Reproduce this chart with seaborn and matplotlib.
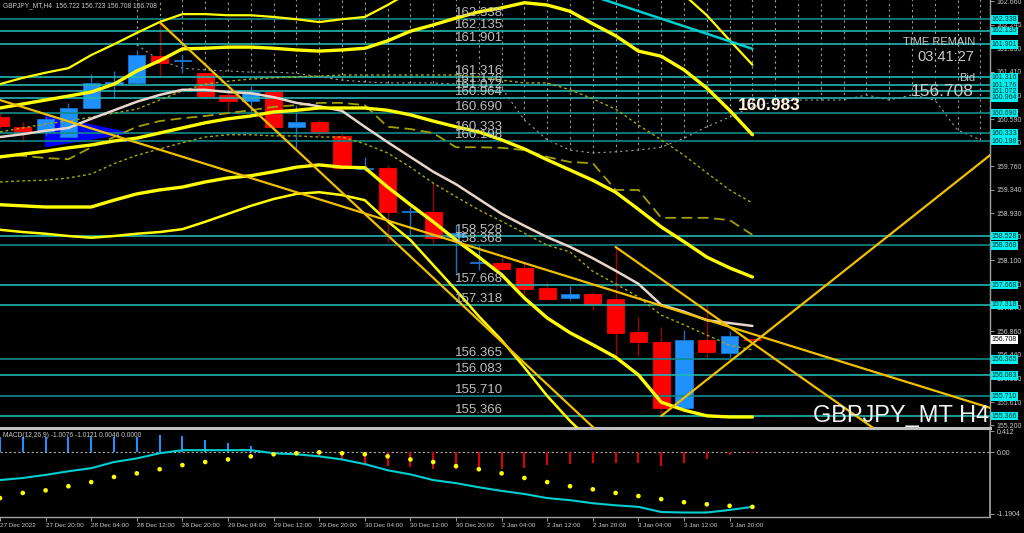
import numpy as np
import pandas as pd
import matplotlib
matplotlib.use("Agg")
import matplotlib.pyplot as plt
import seaborn as sns

sns.set_theme(style="dark", rc={"axes.facecolor": "black", "figure.facecolor": "black"})
plt.rcParams["font.family"] = ["Liberation Sans", "DejaVu Sans"]

# ---------------- data ----------------
time_labels = ["27 Dec 2022", "27 Dec 20:00", "28 Dec 04:00", "28 Dec 12:00", "28 Dec 20:00",
               "29 Dec 04:00", "29 Dec 12:00", "29 Dec 20:00", "30 Dec 04:00", "30 Dec 12:00",
               "30 Dec 20:00", "2 Jan 04:00", "2 Jan 12:00", "2 Jan 20:00", "3 Jan 04:00",
               "3 Jan 12:00", "3 Jan 20:00"]

opens = [160.622, 160.446, 160.358, 160.270, 160.780, 161.210, 161.219, 161.694, 161.600, 161.395,
         161.008, 160.903, 161.061, 160.446, 160.534, 160.288, 159.710, 159.725, 158.945, 158.952,
         158.513, 158.050, 158.056, 157.968, 157.616, 157.441, 157.511, 157.423, 156.843, 156.667,
         155.507, 156.702, 156.474, 156.722]
highs = [160.690, 160.534, 160.620, 160.868, 161.377, 161.430, 161.800, 162.290, 161.711, 161.420,
         161.131, 161.167, 161.096, 160.833, 160.569, 160.341, 159.919, 159.778, 159.040, 159.462,
         158.724, 158.372, 158.161, 158.073, 157.722, 157.652, 157.546, 158.337, 157.107, 156.931,
         156.878, 157.340, 156.861, 156.723]
lows = [160.430, 160.200, 160.310, 160.270, 160.780, 160.956, 161.200, 161.325, 161.395, 160.956,
        160.727, 160.710, 160.430, 160.077, 160.290, 159.690, 159.673, 158.425, 158.548, 158.407,
        157.845, 157.933, 157.933, 157.494, 157.400, 157.400, 157.230, 156.386, 156.421, 155.367,
        155.472, 156.386, 156.403, 156.708]
closes = [160.464, 160.341, 160.587, 160.780, 161.219, 161.225, 161.711, 161.571, 161.606, 160.991,
          160.903, 161.061, 160.446, 160.534, 160.341, 159.725, 159.725, 158.952, 158.960, 158.495,
          158.583, 158.056, 157.950, 157.599, 157.423, 157.511, 157.335, 156.826, 156.667, 155.507,
          156.702, 156.492, 156.773, 156.708]

band_outer_up = [161.20, 161.31, 161.40, 161.48, 161.71, 161.90, 162.10, 162.29, 162.43, 162.43,
                 162.41, 162.41, 162.38, 162.34, 162.29, 162.34, 162.38, 162.59, 162.82, 163.03,
                 163.21, 163.35, 163.42, 163.47, 163.47, 163.42, 163.35, 163.21, 163.12, 162.94,
                 162.77, 162.41, 161.97, 161.54]
band_up = [160.78, 160.85, 160.92, 160.99, 161.06, 161.20, 161.43, 161.61, 161.82, 161.83,
           161.85, 161.85, 161.83, 161.80, 161.78, 161.80, 161.83, 161.96, 162.13, 162.24,
           162.36, 162.47, 162.54, 162.63, 162.59, 162.48, 162.26, 162.05, 161.78, 161.69,
           161.45, 161.13, 160.74, 160.31]
band_mid = [159.92, 159.97, 160.02, 160.08, 160.13, 160.20, 160.25, 160.34, 160.43, 160.52,
            160.59, 160.64, 160.71, 160.74, 160.78, 160.78, 160.78, 160.74, 160.66, 160.55,
            160.45, 160.36, 160.22, 160.06, 159.87, 159.69, 159.51, 159.30, 159.00, 158.69,
            158.43, 158.16, 157.97, 157.81]
band_low = [159.08, 159.06, 159.04, 159.04, 159.04, 159.16, 159.27, 159.34, 159.39, 159.48,
            159.55, 159.59, 159.66, 159.74, 159.78, 159.74, 159.73, 159.39, 159.08, 158.78,
            158.46, 158.16, 157.85, 157.44, 157.09, 156.83, 156.62, 156.40, 156.09, 155.61,
            155.47, 155.37, 155.35, 155.35]
band_outer_low = [158.64, 158.60, 158.57, 158.53, 158.50, 158.53, 158.57, 158.60, 158.65, 158.78,
                  158.92, 159.06, 159.18, 159.27, 159.30, 159.25, 159.16, 158.79, 158.46, 158.02,
                  157.58, 157.12, 156.70, 156.22, 155.72, 155.28, 154.90, 154.60, 154.35, 154.15,
                  154.02, 153.95, 153.90, 153.89]
ma_line = [160.27, 160.32, 160.38, 160.43, 160.59, 160.74, 160.89, 161.01, 161.10, 161.10,
           161.06, 161.04, 160.97, 160.87, 160.81, 160.73, 160.45, 160.18, 159.92, 159.66,
           159.44, 159.18, 158.92, 158.71, 158.51, 158.34, 158.14, 157.92, 157.69, 157.32,
           157.20, 157.05, 157.00, 156.95]
dot_line_a = [160.36, 160.43, 160.50, 160.55, 160.62, 160.69, 160.76, 160.92, 161.08, 161.20,
              161.25, 161.29, 161.31, 161.33, 161.34, 161.36, 161.36, 161.36, 161.36, 161.36,
              161.36, 161.33, 161.27, 161.22, 161.22, 161.10, 160.94, 160.76, 160.48, 160.22,
              159.95, 159.64, 159.34, 159.11]
dot_line_b = [159.48, 159.50, 159.51, 159.55, 159.62, 159.80, 159.95, 160.06, 160.17, 160.27,
              160.31, 160.31, 160.29, 160.29, 160.27, 160.27, 160.15, 159.99, 159.74, 159.46,
              159.22, 158.99, 158.79, 158.58, 158.37, 158.25, 157.91, 157.69, 157.46, 157.14,
              156.97, 156.79, 156.61, 156.53]
dash_line = [159.94, 159.94, 159.90, 159.88, 160.09, 160.27, 160.45, 160.55, 160.60, 160.64,
             160.69, 160.74, 160.80, 160.83, 160.87, 160.87, 160.83, 160.45, 160.41, 160.34,
             160.09, 160.09, 160.08, 160.04, 159.92, 159.83, 159.81, 159.34, 159.34, 158.85,
             158.85, 158.85, 158.81, 158.55]
cloud_start = 6
cloud_low = [161.89, 161.62, 161.48, 161.45, 161.43, 161.41, 161.41, 161.39, 161.33, 161.27,
             161.24, 161.22, 161.22, 161.22, 161.20, 161.17, 161.13, 160.57, 160.22, 160.04,
             159.99, 160.01, 160.04, 160.09, 160.25, 160.45, 160.62, 160.80, 160.89, 160.92,
             160.92, 160.92, 161.01, 160.92, 161.01, 160.92, 160.39, 160.22]

levels = [162.338, 162.135, 161.901, 161.316, 161.176, 161.072, 160.964, 160.690, 160.333,
          160.198, 158.528, 158.368, 157.668, 157.318, 156.365, 156.083, 155.710, 155.366]
level_dark = [1, 0, 0, 0, 0, 0, 0, 1, 1, 1, 0, 1, 0, 0, 1, 0, 1, 0]

price_ticks = [162.660, 162.245, 161.830, 161.415, 161.000, 160.585, 160.170, 159.760, 159.345,
               158.930, 158.515, 158.100, 157.685, 157.270, 156.855, 156.440, 156.025, 155.610,
               155.200]
price_tick_labels = ["162.660", "162.245", "161.830", "161.410", "161.000", "160.590", "160.170",
                     "159.760", "159.340", "158.930", "158.510", "158.100", "157.680", "157.270",
                     "156.860", "156.440", "156.030", "155.610", "155.200"]

# trendlines: (bar, price) anchor pairs
trend_main = [(0.0, 160.92), (43.42, 155.51)]
trend_steep = [(7.0, 162.29), (27.0, 154.80)]
trend_recent = [(27.0, 158.337), (39.0, 154.96)]
trend_up = [(29.0, 155.367), (43.42, 159.95)]
trend_cyan = [(25.0, 162.88), (33.0, 161.82)]
triangle = [(1.97, 160.66), (1.97, 160.09), (5.83, 160.34)]

macd_hist = [0.29, 0.29, 0.29, 0.29, 0.29, 0.29, 0.29, 0.33, 0.31, 0.23, 0.17, 0.12, 0.01, -0.03,
             -0.10, -0.15, -0.25, -0.27, -0.29, -0.33, -0.33, -0.33, -0.33, -0.31, -0.25, -0.23,
             -0.21, -0.21, -0.21, -0.27, -0.21, -0.14, -0.06, -0.01]
macd_line = [-0.54, -0.50, -0.44, -0.37, -0.31, -0.19, -0.12, -0.02, 0.04, 0.04, 0.04, 0.04, -0.02,
             -0.04, -0.08, -0.14, -0.23, -0.35, -0.43, -0.54, -0.60, -0.68, -0.75, -0.81, -0.89,
             -0.93, -0.99, -1.03, -1.06, -1.16, -1.17, -1.17, -1.12, -1.06]
macd_dots = [-0.89, -0.79, -0.74, -0.66, -0.58, -0.48, -0.41, -0.33, -0.25, -0.19, -0.14, -0.08,
             -0.04, -0.02, 0.00, -0.02, -0.04, -0.08, -0.14, -0.19, -0.27, -0.33, -0.41, -0.50,
             -0.58, -0.66, -0.72, -0.79, -0.85, -0.91, -0.97, -1.01, -1.04, -1.06]

# ---------------- figure ----------------
W, H = 1024, 533
fig = plt.figure(figsize=(W / 100, H / 100), dpi=100)


def rect(l, t, r, b):
    return [l / W, 1 - b / H, (r - l) / W, (b - t) / H]


ax = fig.add_axes(rect(0, 0, 990, 428))
mx = fig.add_axes(rect(0, 431, 990, 517))
XMAX = 990 / 22.8
n = len(opens)
bars = np.arange(n)
for a in (ax, mx):
    a.set_facecolor("black")
    a.set_xlim(0, XMAX)
    a.grid(False)
ax.set_ylim(155.156, 162.678)
mx.set_ylim(-1.257, 0.412)

TXT = "#C8C8C8"
GRID = "#9A9A9A"

# cloud verticals (grey dotted)
cb = np.arange(cloud_start, cloud_start + len(cloud_low))
ax.vlines(cb, cloud_low, 163.0, colors=GRID, linestyles=(0, (2, 3)), lw=0.8, zorder=1)
sns.lineplot(x=cb, y=cloud_low, ax=ax, color=GRID, lw=0.8, linestyle=(0, (2, 3)),
             estimator=None, sort=False, legend=False, zorder=1)

# triangle object
ax.fill([p[0] for p in triangle], [p[1] for p in triangle], color="#0000FF", zorder=2, lw=0)

# candles
for i, (o, h, l, c) in enumerate(zip(opens, highs, lows, closes)):
    up = c >= o
    body = "#1E90FF" if up else "#FF0000"
    wick = "#1A6FC4" if up else "#A00000"
    ax.vlines(i, l, h, color=wick, lw=1.0, zorder=3)
    hgt = max(abs(c - o), 0.02)
    ax.bar(i, hgt, bottom=min(o, c), width=0.76, color=body,
           edgecolor=("#1874CD" if up else "#FF0000"), lw=0.6, zorder=4)

# indicator lines
def line(vals, color, lw, ls="-", z=6):
    sns.lineplot(x=bars, y=vals, ax=ax, color=color, lw=lw, linestyle=ls,
                 estimator=None, sort=False, legend=False, zorder=z)

line(dot_line_a, "#A8A800", 1.0, (0, (2, 2)))
line(dot_line_b, "#A8A800", 1.0, (0, (2, 2)))
line(dash_line, "#A0A000", 1.3, (0, (6, 3)))
line(ma_line, "#E8D6CC", 1.8)
line(band_outer_up, "#FFFF00", 1.6)
line(band_up, "#FFFF00", 2.4)
line(band_mid, "#FFFF00", 2.4)
line(band_low, "#FFFF00", 2.4)
line(band_outer_low, "#FFFF00", 1.8)

for seg, col in [(trend_main, "#F0C000"), (trend_steep, "#F0C000"), (trend_recent, "#F0C000"),
                 (trend_up, "#F0C000"), (trend_cyan, "#00CED1")]:
    sns.lineplot(x=[seg[0][0], seg[1][0]], y=[seg[0][1], seg[1][1]], ax=ax, color=col,
                 lw=1.6 if col != "#00CED1" else 1.8, estimator=None, sort=False,
                 legend=False, zorder=7)

# horizontal levels
for v, d in zip(levels, level_dark):
    ax.axhline(v, color=("#118A8A" if d else "#22B5B0"), lw=1.2, zorder=5)
    ax.text(19.97, v, f"{v:.3f}", color="#BDBDBD", fontsize=9.5, va="bottom", ha="left",
            zorder=8)
    ax.text(XMAX + 0.07, v, f"{v:.3f}", color="#0A3030", fontsize=5.0, va="center", ha="left",
            zorder=20, clip_on=False,
            bbox=dict(boxstyle="square,pad=0.12", fc="#00F0F0", ec="none"))
ax.text(XMAX + 0.07, closes[-1], f"{closes[-1]:.3f}", color="black", fontsize=5.0, va="center",
        ha="left", zorder=21, clip_on=False,
        bbox=dict(boxstyle="square,pad=0.12", fc="white", ec="none"))

# right price axis
ax.yaxis.tick_right()
ax.set_yticks(price_ticks)
ax.set_yticklabels(price_tick_labels)
ax.set_xticks([])
ax.tick_params(axis="y", colors=GRID, labelcolor=TXT, labelsize=5.0, length=3, width=0.7,
               pad=2, direction="out", right=True, left=False)
for s in ("top", "left"):
    ax.spines[s].set_visible(False)
ax.spines["right"].set_color("#A0A0A0")
ax.spines["right"].set_linewidth(1.0)
ax.spines["bottom"].set_color("#BEBEBE")
ax.spines["bottom"].set_linewidth(2.2)

# chart texts
ax.text(0.003, 0.995, "GBPJPY_MT,H4  156.722 156.723 156.708 156.708", transform=ax.transAxes,
        color=TXT, fontsize=4.8, va="top", ha="left", zorder=9)
ax.text(975 / 990, 1 - 42 / 428, "TIME REMAIN", transform=ax.transAxes, color=TXT, fontsize=8,
        ha="right", va="center", zorder=9)
ax.text(974 / 990, 1 - 57 / 428, "03:41:27", transform=ax.transAxes, color=TXT, fontsize=10.5,
        ha="right", va="center", zorder=9)
ax.text(975 / 990, 1 - 78 / 428, "Bid", transform=ax.transAxes, color=TXT, fontsize=8,
        ha="right", va="center", zorder=9)
ax.text(974 / 990, 1 - 92 / 428, "156.708", transform=ax.transAxes, color=TXT, fontsize=12.5,
        ha="right", va="center", zorder=9)
ax.text(738 / 990, 1 - 105 / 428, "160.983", transform=ax.transAxes, color="#FFF4E0",
        fontsize=12.5, fontweight="bold", ha="left", va="center", zorder=9)
ax.text(989 / 990, 1 - 422 / 428, "GBPJPY_MT H4", transform=ax.transAxes, color="#F2F2F2",
        fontsize=17, ha="right", va="baseline", zorder=9)

# ---------------- MACD panel ----------------
mx.axhline(0, color="#A8A8A8", lw=0.8, linestyle=(0, (2, 2)), zorder=1)
hist_colors = ["#1E90FF" if v > 0 else "#E00000" for v in macd_hist]
mx.bar(bars, macd_hist, width=0.09, color=hist_colors, edgecolor="none", lw=0, zorder=2)
sns.lineplot(x=bars, y=macd_line, ax=mx, color="#00CED1", lw=1.5, estimator=None, sort=False,
             legend=False, zorder=3)
sns.scatterplot(x=bars, y=macd_dots, ax=mx, color="#FFFF00", s=11, edgecolor="none", zorder=4,
                legend=False)
mx.text(0.003, 0.985, "MACD(12,26,9) -1.0076 -1.0121 0.0046 0.0000", transform=mx.transAxes,
        color=TXT, fontsize=4.8, va="top", ha="left", zorder=9)

mx.yaxis.tick_right()
mx.set_yticks([0.412, 0.0, -1.1904])
mx.set_yticklabels(["0.412", "0.00", "-1.1904"])
mx.tick_params(axis="y", colors=GRID, labelcolor=TXT, labelsize=5.0, length=3, width=0.7, pad=2,
               right=True, left=False)
mx.set_xticks(np.arange(0, 2 * len(time_labels), 2))
mx.set_xticklabels(time_labels, ha="left")
mx.tick_params(axis="x", colors=GRID, labelcolor=TXT, labelsize=4.6, length=3, width=0.7, pad=1.5,
               bottom=True)
mx.set_xlabel("")
mx.set_ylabel("")
ax.set_xlabel("")
ax.set_ylabel("")
for s in ("top", "left"):
    mx.spines[s].set_visible(False)
mx.spines["right"].set_color("#A0A0A0")
mx.spines["bottom"].set_color("#A0A0A0")
mx.spines["bottom"].set_linewidth(1.0)

fig.savefig("out.png", dpi=100, facecolor="black")
